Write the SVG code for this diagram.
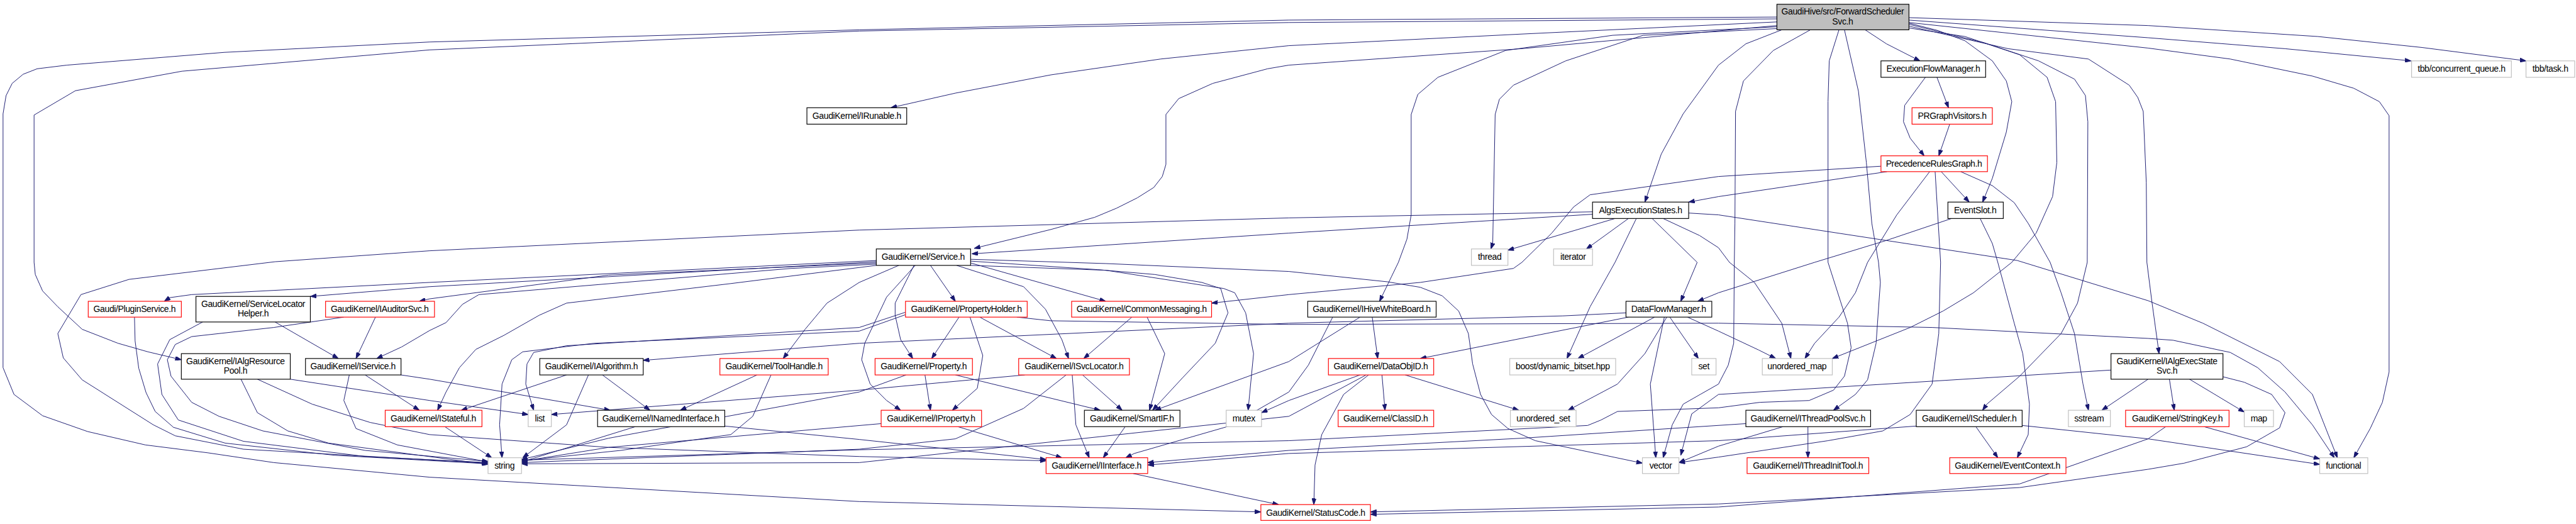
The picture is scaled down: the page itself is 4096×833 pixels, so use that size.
<svg xmlns="http://www.w3.org/2000/svg" width="4096" height="833" viewBox="0 0 4096 833">
<defs>
<style>
.n rect{fill:#fff;stroke:#000;stroke-width:1.2}
.r rect{fill:#fff;stroke:#ff0000;stroke-width:1.2}
.g rect{fill:#fff;stroke:#bfbfbf;stroke-width:1.2}
.m rect{fill:#bfbfbf;stroke:#000;stroke-width:1.2}
text{font-family:"Liberation Sans",Arial,sans-serif;font-size:14.5px;letter-spacing:-0.4px;fill:#000;text-anchor:middle}
#edges path{fill:none;stroke:#191970;stroke-width:1;stroke-linejoin:round;marker-end:url(#a)}
</style>
<marker id="a" markerWidth="10" markerHeight="7" refX="10" refY="3.5" orient="auto" markerUnits="userSpaceOnUse"><path d="M0,0 L10,3.5 L0,7 z" fill="#191970" stroke="#191970" stroke-width="1"/></marker>
</defs>
<rect width="4096" height="833" fill="#fff"/>
<g transform="scale(0.9676)">
<g id="edges">
<path d="M2920,36 L2500,56 2118,75 1907,97 1727,123 1570,153 1464,177"/>
<path d="M2920,42 L2500,80 2118,107 2083,113 1993,137 1937,162 1916,188 1916,270 1910,290 1896,308 1869,325 1835,342 1799,357 1727,377 1601,408"/>
<path d="M2928,49 L2869,72 2824,107 2766,187 2730,253 2703,332"/>
<path d="M2920,47 L2700,58 2573,100 2487,140 2464,163 2457,188 2453,400 2450,409"/>
<path d="M2920,44 L2650,58 2474,83 2363,127 2330,155 2319,188 2319,353 2312,393 2298,431 2267,495"/>
<path d="M3065,49 L3100,72 3155,100"/>
<path d="M3137,38 L3184,50 3229,67 3274,100 3297,133 3306,167 3297,217 3274,293 3258,332"/>
<path d="M3137,29 L3530,42 3809,60 3980,78 4151,100"/>
<path d="M3137,33 L3530,62 3755,80 3962,100"/>
<path d="M3137,37 L3530,79 3665,97 3800,125 3868,145 3910,167 3926,190 3926,611 3915,661 3895,704 3868,752"/>
<path d="M3137,40 L3260,70 3350,100 3409,130 3427,157 3431,200 3430,431 3414,498 3387,548 3319,618 3265,664 3258,674"/>
<path d="M3137,43 L3300,80 3432,97 3499,140 3513,160 3522,183 3527,300 3528,431 3536,494 3548,581"/>
<path d="M3137,46 L3229,60 3319,90 3364,127 3378,167 3380,267 3373,323 3346,383 3306,431 3243,481 3193,511 3139,538 3011,589"/>
<path d="M3031,49 L3054,150 3067,267 3076,367 3087,431 3090,464 3083,564 3069,624 3049,648 3013,674"/>
<path d="M2975,49 L2914,83 2865,133 2852,183 2851,367 2850,431 2849,564 2840,600 2824,631 2794,648 2766,664 2748,698 2733,752"/>
<path d="M3022,49 L3006,100 3004,167 3004,431 3036,531 3042,571 3031,618 3013,641 2973,658 2892,661 2824,670 2658,676 2631,690 2609,699 2118,724 1412,739 857,756"/>
<path d="M2920,31 L2118,37 1412,51 706,82 299,117 124,149 56,189 56,431 58,451 70,478 95,504 135,541 194,564 243,578 298,591"/>
<path d="M2920,28 L2118,33 1412,49 706,69 369,86 110,107 61,113 38,122 20,137 10,157 5,187 5,604 23,648 70,683 144,709 239,731 342,744 450,760 706,784 1412,824 2072,841"/>
<path d="M3183,127 L3202,177"/>
<path d="M3164,127 L3130,173 3128,200 3139,227 3162,256"/>
<path d="M3204,204 L3186,256"/>
<path d="M3190,282 L3236,332"/>
<path d="M3101,282 L2824,323 2775,332"/>
<path d="M3092,273 L2824,290 2613,320 2586,340 2550,383 2501,431 2487,441 2334,464 2118,484 1991,498"/>
<path d="M3171,282 L3117,353 3069,431 3049,481 3022,521 2982,564 2966,589"/>
<path d="M3180,282 L3189,431 3186,548 3175,631 3139,681 3094,708 3004,724 2824,751 2759,760"/>
<path d="M3222,282 L3274,305 3310,333 3333,367 3369,431 3387,481 3409,548 3423,631 3432,674"/>
<path d="M1671,521 L1727,527 2118,533 2824,531 3175,538 3530,556 3571,559 3665,579 3710,604 3755,644 3800,698 3836,752"/>
<path d="M1440,428 L706,464 315,484 279,489 270,495"/>
<path d="M1440,430 L706,471 510,487"/>
<path d="M1440,432 L1000,452 706,491 689,495"/>
<path d="M1440,434 L1300,441 787,484 760,500 733,530 706,543 660,570 619,589"/>
<path d="M1440,436 L1200,466 931,498 886,518 828,551 782,574 755,604 733,644 719,674"/>
<path d="M1477,436 L1412,464 1359,498 1323,541 1287,589"/>
<path d="M1502,436 L1471,498 1471,518 1480,558 1500,589"/>
<path d="M1504,436 L1457,488 1421,564 1416,591 1430,631 1457,658 1480,674"/>
<path d="M1529,436 L1570,495"/>
<path d="M1572,436 L1682,471 1718,508 1745,558 1756,589"/>
<path d="M1595,432 L1817,495"/>
<path d="M1595,429 L1804,443 1898,451 1975,464 2006,474 2018,514 1997,564 1943,621 1894,674"/>
<path d="M1595,436 L1817,444 2011,474 2029,481 2047,514 2060,581 2051,674"/>
<path d="M1595,426 L1817,433 2118,446 2280,463 2334,472 2370,486 2397,511 2413,548 2420,598 2433,648 2451,681 2478,704 2523,724 2699,761"/>
<path d="M221,521 L222,560 228,605 240,645 255,676 285,702 370,728 550,748 802,762"/>
<path d="M452,529 L556,589"/>
<path d="M333,529 L279,558 259,598 266,648 293,690 400,725 600,750 802,760"/>
<path d="M617,521 L585,589"/>
<path d="M565,521 L450,538 315,553 288,566 275,591 281,618 315,661 360,684 432,708 600,740 802,758"/>
<path d="M477,623 L706,658 868,681"/>
<path d="M396,623 L423,678 473,708 540,728 802,763"/>
<path d="M423,623 L513,664 608,694 706,714 1000,735 1412,750 1719,757"/>
<path d="M659,616 L706,623 1003,674"/>
<path d="M600,616 L689,674"/>
<path d="M574,616 L565,658 585,704 653,731 802,759"/>
<path d="M731,701 L808,752"/>
<path d="M931,616 L758,674"/>
<path d="M967,616 L931,698 859,752"/>
<path d="M990,616 L1068,674"/>
<path d="M1244,616 L1118,674"/>
<path d="M1267,616 L1237,684 1201,714 1020,740 857,757"/>
<path d="M1044,701 L857,759"/>
<path d="M1191,700 L1412,722 1719,755"/>
<path d="M1520,616 L1529,674"/>
<path d="M1489,616 L1412,644 1000,720 857,755"/>
<path d="M1570,616 L1808,674"/>
<path d="M1576,521 L1531,589"/>
<path d="M1594,521 L1615,584 1606,638 1565,674"/>
<path d="M1610,521 L1736,589"/>
<path d="M1488,513 L1412,538 931,568 877,579 866,598 864,631 877,674"/>
<path d="M1488,517 L1412,544 976,564 859,578 841,591 825,631 821,698 825,752"/>
<path d="M1860,521 L1781,589"/>
<path d="M1885,521 L1914,581 1889,674"/>
<path d="M1779,616 L1844,674"/>
<path d="M1762,616 L1768,698 1790,752"/>
<path d="M1752,616 L1682,671 1570,721 1412,738 857,760"/>
<path d="M1684,616 L1412,641 906,681"/>
<path d="M1849,701 L1813,752"/>
<path d="M1862,778 L2101,829"/>
<path d="M1448,696 L1000,735 857,758"/>
<path d="M1574,701 L1745,752"/>
<path d="M2255,521 L2264,589"/>
<path d="M2235,521 L2118,594 1898,674"/>
<path d="M2190,521 L2150,600 2118,644 2020,700 1864,745 1850,752"/>
<path d="M2719,521 L2593,589"/>
<path d="M2676,521 L2334,589"/>
<path d="M2744,521 L2791,589"/>
<path d="M2739,521 L2703,581 2658,631 2577,674"/>
<path d="M2735,521 L2712,631 2721,752"/>
<path d="M2773,521 L2824,544 2890,575 2918,589"/>
<path d="M2672,514 L2568,519 2118,531 1412,564 1057,592"/>
<path d="M2271,616 L2276,674"/>
<path d="M2309,616 L2496,674"/>
<path d="M2249,616 L2208,648 2172,714 2161,764 2159,829"/>
<path d="M2235,616 L2118,658 2073,678"/>
<path d="M2245,616 L2118,684 1412,760 857,762"/>
<path d="M2617,352 L2118,383 1597,417"/>
<path d="M2617,348 L2118,358 1412,378 706,412 452,430 212,459 133,484 95,548 104,588 135,624 252,698 288,716 400,738 802,761"/>
<path d="M2654,359 L2478,411"/>
<path d="M2676,359 L2607,409"/>
<path d="M2689,359 L2654,431 2613,504 2575,589"/>
<path d="M2715,359 L2789,431 2762,495"/>
<path d="M2733,359 L2793,387 2824,407 2842,431 2883,464 2928,531 2943,589"/>
<path d="M2775,350 L2824,353 3315,428 3530,494 3620,531 3746,594 3800,648 3841,752"/>
<path d="M3207,359 L3100,395 2982,431 2824,481 2790,495"/>
<path d="M3254,359 L3274,400 3283,431 3310,531 3324,581 3335,664 3333,714 3315,752"/>
<path d="M2971,701 L2971,752"/>
<path d="M2930,701 L2824,733 2759,760"/>
<path d="M2869,696 L2500,720 2118,740 1886,760"/>
<path d="M3247,701 L3283,752"/>
<path d="M3149,700 L2824,724 2118,745 1886,764"/>
<path d="M3323,699 L3530,721 3812,763"/>
<path d="M3530,623 L3454,674"/>
<path d="M3565,623 L3573,674"/>
<path d="M3598,623 L3688,677"/>
<path d="M3653,619 L3688,628 3733,648 3755,678 3746,703 3692,734 3589,761 3530,771 3319,801 2824,828 2252,841"/>
<path d="M3469,608 L2824,648 2780,680 2762,748"/>
<path d="M3622,701 L3812,754"/>
<path d="M3559,701 L3530,721 3319,795 2824,833 2252,845"/>
</g>
<g id="n_main" class="m"><rect x="2920" y="7" width="217" height="42"/><text x="3028" y="24">GaudiHive/src/ForwardScheduler</text><text x="3028" y="40">Svc.h</text></g>
<g id="n_efm" class="n"><rect x="3091" y="100" width="172" height="27"/><text x="3177" y="118">ExecutionFlowManager.h</text></g>
<g id="n_prgv" class="r"><rect x="3142" y="177" width="132" height="27"/><text x="3208" y="195">PRGraphVisitors.h</text></g>
<g id="n_prg" class="r"><rect x="3091" y="256" width="175" height="26"/><text x="3178" y="274">PrecedenceRulesGraph.h</text></g>
<g id="n_es" class="n"><rect x="3201" y="332" width="91" height="27"/><text x="3246" y="350">EventSlot.h</text></g>
<g id="n_tbbq" class="g"><rect x="3963" y="100" width="164" height="27"/><text x="4045" y="118">tbb/concurrent_queue.h</text></g>
<g id="n_tbbt" class="g"><rect x="4151" y="100" width="80" height="27"/><text x="4191" y="118">tbb/task.h</text></g>
<g id="n_irun" class="n"><rect x="1326" y="177" width="164" height="27"/><text x="1408" y="195">GaudiKernel/IRunable.h</text></g>
<g id="n_aes" class="n"><rect x="2617" y="332" width="158" height="27"/><text x="2696" y="350">AlgsExecutionStates.h</text></g>
<g id="n_thread" class="g"><rect x="2418" y="409" width="60" height="27"/><text x="2448" y="427">thread</text></g>
<g id="n_iter" class="g"><rect x="2553" y="409" width="64" height="27"/><text x="2585" y="427">iterator</text></g>
<g id="n_svc" class="n"><rect x="1440" y="409" width="155" height="27"/><text x="1517" y="427">GaudiKernel/Service.h</text></g>
<g id="n_plug" class="r"><rect x="145" y="495" width="153" height="26"/><text x="221" y="513">Gaudi/PluginService.h</text></g>
<g id="n_slh" class="n"><rect x="322" y="487" width="188" height="42"/><text x="416" y="504">GaudiKernel/ServiceLocator</text><text x="416" y="520">Helper.h</text></g>
<g id="n_iaud" class="r"><rect x="535" y="495" width="179" height="26"/><text x="624" y="513">GaudiKernel/IAuditorSvc.h</text></g>
<g id="n_iarp" class="n"><rect x="298" y="581" width="179" height="42"/><text x="387" y="598">GaudiKernel/IAlgResource</text><text x="387" y="614">Pool.h</text></g>
<g id="n_isvc" class="n"><rect x="502" y="589" width="157" height="27"/><text x="580" y="607">GaudiKernel/IService.h</text></g>
<g id="n_istate" class="r"><rect x="633" y="674" width="159" height="27"/><text x="712" y="692">GaudiKernel/IStateful.h</text></g>
<g id="n_list" class="g"><rect x="868" y="674" width="38" height="27"/><text x="887" y="692">list</text></g>
<g id="n_ialg" class="n"><rect x="887" y="589" width="170" height="27"/><text x="972" y="607">GaudiKernel/IAlgorithm.h</text></g>
<g id="n_inamed" class="n"><rect x="982" y="674" width="209" height="27"/><text x="1086" y="692">GaudiKernel/INamedInterface.h</text></g>
<g id="n_tool" class="r"><rect x="1183" y="589" width="178" height="27"/><text x="1272" y="607">GaudiKernel/ToolHandle.h</text></g>
<g id="n_string" class="g"><rect x="802" y="752" width="55" height="26"/><text x="829" y="770">string</text></g>
<g id="n_ph" class="r"><rect x="1488" y="495" width="200" height="26"/><text x="1588" y="513">GaudiKernel/PropertyHolder.h</text></g>
<g id="n_cm" class="r"><rect x="1761" y="495" width="230" height="26"/><text x="1876" y="513">GaudiKernel/CommonMessaging.h</text></g>
<g id="n_prop" class="r"><rect x="1438" y="589" width="160" height="27"/><text x="1518" y="607">GaudiKernel/Property.h</text></g>
<g id="n_isl" class="r"><rect x="1674" y="589" width="182" height="27"/><text x="1765" y="607">GaudiKernel/ISvcLocator.h</text></g>
<g id="n_iprop" class="r"><rect x="1448" y="674" width="165" height="27"/><text x="1530" y="692">GaudiKernel/IProperty.h</text></g>
<g id="n_smart" class="n"><rect x="1782" y="674" width="157" height="27"/><text x="1860" y="692">GaudiKernel/SmartIF.h</text></g>
<g id="n_mutex" class="g"><rect x="2015" y="674" width="58" height="27"/><text x="2044" y="692">mutex</text></g>
<g id="n_iint" class="r"><rect x="1719" y="752" width="167" height="26"/><text x="1802" y="770">GaudiKernel/IInterface.h</text></g>
<g id="n_sc" class="r"><rect x="2072" y="829" width="180" height="26"/><text x="2162" y="847">GaudiKernel/StatusCode.h</text></g>
<g id="n_ihwb" class="n"><rect x="2149" y="495" width="211" height="26"/><text x="2254" y="513">GaudiKernel/IHiveWhiteBoard.h</text></g>
<g id="n_dfm" class="n"><rect x="2672" y="495" width="141" height="26"/><text x="2742" y="513">DataFlowManager.h</text></g>
<g id="n_doid" class="r"><rect x="2183" y="589" width="173" height="27"/><text x="2269" y="607">GaudiKernel/DataObjID.h</text></g>
<g id="n_boost" class="g"><rect x="2481" y="589" width="174" height="27"/><text x="2568" y="607">boost/dynamic_bitset.hpp</text></g>
<g id="n_set" class="g"><rect x="2780" y="589" width="40" height="27"/><text x="2800" y="607">set</text></g>
<g id="n_clid" class="r"><rect x="2199" y="674" width="157" height="27"/><text x="2277" y="692">GaudiKernel/ClassID.h</text></g>
<g id="n_uset" class="g"><rect x="2482" y="674" width="108" height="27"/><text x="2536" y="692">unordered_set</text></g>
<g id="n_vector" class="g"><rect x="2699" y="752" width="60" height="26"/><text x="2729" y="770">vector</text></g>
<g id="n_umap" class="g"><rect x="2896" y="589" width="115" height="27"/><text x="2953" y="607">unordered_map</text></g>
<g id="n_iaess" class="n"><rect x="3469" y="581" width="184" height="42"/><text x="3561" y="598">GaudiKernel/IAlgExecState</text><text x="3561" y="614">Svc.h</text></g>
<g id="n_itps" class="n"><rect x="2869" y="674" width="205" height="27"/><text x="2971" y="692">GaudiKernel/IThreadPoolSvc.h</text></g>
<g id="n_isch" class="n"><rect x="3149" y="674" width="174" height="27"/><text x="3236" y="692">GaudiKernel/IScheduler.h</text></g>
<g id="n_sstream" class="g"><rect x="3399" y="674" width="69" height="27"/><text x="3433" y="692">sstream</text></g>
<g id="n_skey" class="r"><rect x="3493" y="674" width="170" height="27"/><text x="3578" y="692">GaudiKernel/StringKey.h</text></g>
<g id="n_map" class="g"><rect x="3688" y="674" width="48" height="27"/><text x="3712" y="692">map</text></g>
<g id="n_itit" class="r"><rect x="2871" y="752" width="200" height="26"/><text x="2971" y="770">GaudiKernel/IThreadInitTool.h</text></g>
<g id="n_ectx" class="r"><rect x="3204" y="752" width="191" height="26"/><text x="3299" y="770">GaudiKernel/EventContext.h</text></g>
<g id="n_func" class="g"><rect x="3812" y="752" width="79" height="26"/><text x="3851" y="770">functional</text></g>
</g>
</svg>
